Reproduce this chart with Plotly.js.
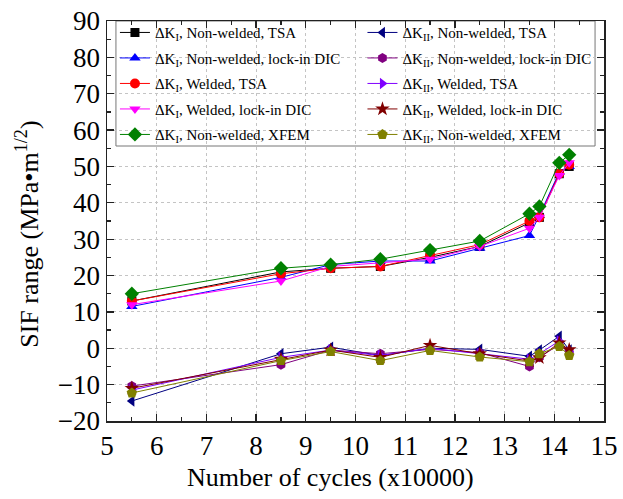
<!DOCTYPE html>
<html>
<head>
<meta charset="utf-8">
<script src="https://cdn.plot.ly/plotly-3.0.1.min.js"></script>
<style>html,body{margin:0;padding:0;background:#fff;}#chart{width:623px;height:499px;}</style>
</head>
<body>
<div id="chart"></div>
<script>
// Number of cycles (x10000)
const cycles = [5.5, 8.5, 9.5, 10.5, 11.5, 12.5, 13.5, 13.7, 14.1, 14.3];

// Delta K_I series
const kI_nonwelded_tsa  = [13.0, 21.0, 22.0, 22.5, 25.0, 28.0, 34.5, 36.0, 48.0, 50.0];
const kI_nonwelded_dic  = [11.5, 19.5, 23.0, 24.0, 24.0, 27.5, 31.0, 36.5, 48.5, 50.0];
const kI_welded_tsa     = [13.0, 20.5, 22.0, 22.5, 25.5, 28.5, 35.0, 36.0, 48.0, 50.5];
const kI_welded_dic     = [12.0, 18.5, 22.5, 23.5, 24.5, 28.0, 33.0, 36.0, 47.5, 51.0];
const kI_nonwelded_xfem = [15.0, 22.0, 23.0, 24.5, 27.0, 29.5, 37.0, 39.0, 51.0, 53.2];

// Delta K_II series
const kII_nonwelded_tsa  = [-14.5, -1.5, 0.3, -2.0, 0.0, -0.3, -2.2, -0.5, 3.3, -0.5];
const kII_nonwelded_dic  = [-10.4, -4.5, -0.5, -1.5, -0.3, -1.2, -5.0, -2.5, 1.0, -0.8];
const kII_welded_tsa     = [-11.5, -2.5, -0.5, -2.0, 0.0, -1.5, -3.0, -1.5, 2.0, -1.0];
const kII_welded_dic     = [-11.0, -3.0, -0.5, -2.5, 0.8, -1.5, -3.5, -2.6, 1.5, -0.4];
const kII_nonwelded_xfem = [-12.3, -3.4, -0.9, -3.4, -0.6, -2.4, -3.7, -1.5, 0.5, -2.0];

const legendLabels = [
  'ΔK<sub>I</sub>, Non-welded, TSA',
  'ΔK<sub>I</sub>, Non-welded, lock-in DIC',
  'ΔK<sub>I</sub>, Welded, TSA',
  'ΔK<sub>I</sub>, Welded, lock-in DIC',
  'ΔK<sub>I</sub>, Non-welded, XFEM',
  'ΔK<sub>II</sub>, Non-welded, TSA',
  'ΔK<sub>II</sub>, Non-welded, lock-in DIC',
  'ΔK<sub>II</sub>, Welded, TSA',
  'ΔK<sub>II</sub>, Welded, lock-in DIC',
  'ΔK<sub>II</sub>, Non-welded, XFEM'
];

const xTitle = 'Number of cycles (x10000)';
const yTitle = 'SIF range (MPa•m<sup>1/2</sup>)';

const seriesValues = [kI_nonwelded_tsa, kI_nonwelded_dic, kI_welded_tsa, kI_welded_dic, kI_nonwelded_xfem,
                      kII_nonwelded_tsa, kII_nonwelded_dic, kII_welded_tsa, kII_welded_dic, kII_nonwelded_xfem];

const styles = [
  {color:'#000000', symbol:'square', size:9},
  {color:'#0000ff', symbol:'triangle-up', size:10},
  {color:'#ff0000', symbol:'circle', size:10},
  {color:'#ff00ff', symbol:'triangle-down', size:10},
  {color:'#008000', symbol:'diamond', size:11},
  {color:'#000080', symbol:'triangle-left', size:10},
  {color:'#800080', symbol:'hexagon', size:10},
  {color:'#8000ff', symbol:'triangle-right', size:10},
  {color:'#800000', symbol:'star', size:11},
  {color:'#808000', symbol:'pentagon', size:11}
];

const traces = seriesValues.map((vals, i) => ({
  x: cycles,
  y: vals,
  type: 'scatter',
  mode: 'lines+markers',
  name: legendLabels[i],
  legend: i < 5 ? 'legend' : 'legend2',
  legendgroup: 'g' + i,
  line: {color: styles[i].color, width: 1},
  marker: {color: styles[i].color, symbol: styles[i].symbol, size: styles[i].size, line: {width: 0}}
}));

const serif = 'Liberation Serif, Times New Roman, serif';
const legendBase = {
  font: {family: serif, size: 15, color: '#000'},
  bgcolor: 'rgba(0,0,0,0)',
  borderwidth: 0,
  traceorder: 'grouped',
  tracegroupgap: 3,
  yanchor: 'top',
  xanchor: 'left',
  itemwidth: 30
};

const axisBase = {
  ticks: 'inside',
  ticklen: 7,
  tickwidth: 1.3,
  tickcolor: '#222',
  showline: true,
  linecolor: '#222',
  linewidth: 1.5,
  mirror: 'ticks',
  showgrid: true,
  gridcolor: '#c4c4c4',
  griddash: '3px,3px',
  gridwidth: 1,
  zeroline: false,
  tickfont: {family: serif, size: 27, color: '#000'}
};

const layout = {
  width: 623,
  height: 499,
  margin: {l: 107, r: 19, t: 21, b: 78},
  paper_bgcolor: '#fff',
  plot_bgcolor: '#fff',
  showlegend: true,
  font: {family: serif, color: '#000'},
  xaxis: Object.assign({}, axisBase, {
    range: [5, 15], dtick: 1, tick0: 5,
    minor: {dtick: 0.5, ticks: 'inside', ticklen: 4, tickwidth: 1.2, tickcolor: '#222', showgrid: false}
  }),
  yaxis: Object.assign({}, axisBase, {
    range: [-20, 90], dtick: 10, tick0: 0,
    minor: {dtick: 5, ticks: 'inside', ticklen: 4, tickwidth: 1.2, tickcolor: '#222', showgrid: false}
  }),
  legend: Object.assign({}, legendBase, {x: 0.016, y: 1.012}),
  legend2: Object.assign({}, legendBase, {x: 0.514, y: 1.012}),
  annotations: [{
    text: xTitle, xref: 'paper', yref: 'paper',
    x: 0.4507, y: -0.14, xanchor: 'center', yanchor: 'middle',
    showarrow: false, font: {family: serif, size: 26, color: '#000'}
  }, {
    text: yTitle, xref: 'paper', yref: 'paper', textangle: -90,
    x: -0.159, y: 0.468, xanchor: 'center', yanchor: 'middle',
    showarrow: false, font: {family: serif, size: 26, color: '#000'}
  }],
  shapes: [{
    type: 'rect', xref: 'paper', yref: 'paper',
    x0: 0.018, x1: 0.982, y0: 0.6875, y1: 1,
    line: {color: '#777', width: 1},
    fillcolor: '#fff',
    layer: 'between'
  }]
};

Plotly.newPlot('chart', traces, layout, {staticPlot: true, displayModeBar: false});
</script>
</body>
</html>
